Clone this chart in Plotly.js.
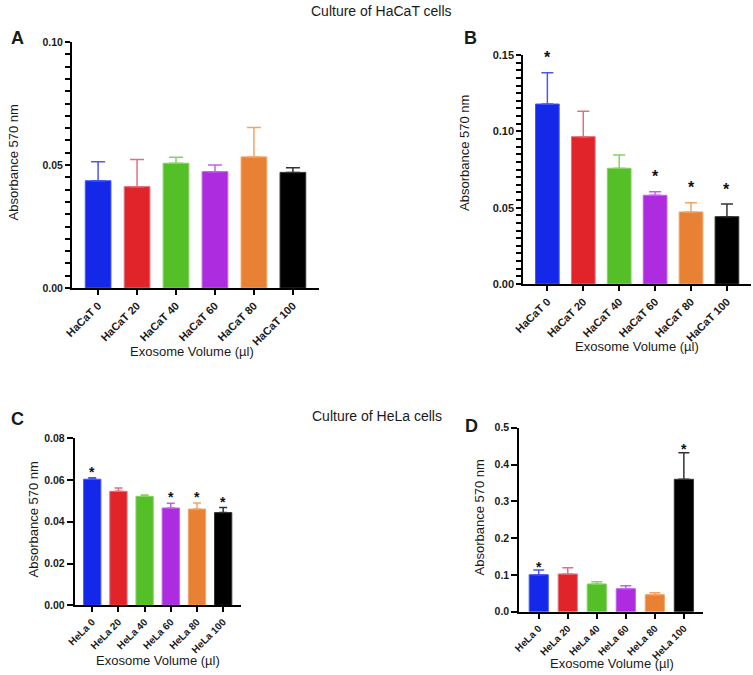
<!DOCTYPE html>
<html>
<head>
<meta charset="utf-8">
<script src="https://cdn.plot.ly/plotly-3.0.1.min.js"></script>
<style>html,body{margin:0;padding:0;background:#fff;}#chart{width:753px;height:675px;}</style>
</head>
<body>
<div id="chart"></div>
<script>
// ---- data ----
const catsHaCaT = ['HaCaT 0', 'HaCaT 20', 'HaCaT 40', 'HaCaT 60', 'HaCaT 80', 'HaCaT 100'];
const catsHeLa = ['HeLa 0', 'HeLa 20', 'HeLa 40', 'HeLa 60', 'HeLa 80', 'HeLa 100'];

const valA = [0.0436, 0.0412, 0.0507, 0.0473, 0.0533, 0.0470];
const errA = [0.0077, 0.0110, 0.0024, 0.0027, 0.0119, 0.0019];
const sigA = ['', '', '', '', '', ''];

const valB = [0.1179, 0.0965, 0.0758, 0.0581, 0.0472, 0.0441];
const errB = [0.0205, 0.0166, 0.0087, 0.0024, 0.0061, 0.0083];
const sigB = ['*', '', '', '*', '*', '*'];

const valC = [0.0604, 0.0546, 0.0522, 0.0466, 0.0461, 0.0444];
const errC = [0.0007, 0.0016, 0.0006, 0.0023, 0.0029, 0.0024];
const sigC = ['*', '', '', '*', '*', '*'];

const valD = [0.1005, 0.1024, 0.0753, 0.0625, 0.0462, 0.3598];
const errD = [0.0125, 0.0172, 0.0062, 0.0082, 0.0054, 0.0722];
const sigD = ['*', '', '', '', '', '*'];

// y tick positions / labels (panels A and B carry small unlabeled ticks every 0.005)
const yTickValsA = [0, 0.005, 0.01, 0.015, 0.02, 0.025, 0.03, 0.035, 0.04, 0.045, 0.05,
                    0.055, 0.06, 0.065, 0.07, 0.075, 0.08, 0.085, 0.09, 0.095, 0.10];
const yTickTextA = ['0.00', '', '', '', '', '', '', '', '', '', '0.05',
                    '', '', '', '', '', '', '', '', '', '0.10'];
const yTickValsB = [0, 0.005, 0.01, 0.015, 0.02, 0.025, 0.03, 0.035, 0.04, 0.045, 0.05,
                    0.055, 0.06, 0.065, 0.07, 0.075, 0.08, 0.085, 0.09, 0.095, 0.10,
                    0.105, 0.11, 0.115, 0.12, 0.125, 0.13, 0.135, 0.14, 0.145, 0.15];
const yTickTextB = ['0.00', '', '', '', '', '', '', '', '', '', '0.05',
                    '', '', '', '', '', '', '', '', '', '0.10',
                    '', '', '', '', '', '', '', '', '', '0.15'];
const yTickValsC = [0, 0.02, 0.04, 0.06, 0.08];
const yTickTextC = ['0.00', '0.02', '0.04', '0.06', '0.08'];
const yTickValsD = [0, 0.1, 0.2, 0.3, 0.4, 0.5];
const yTickTextD = ['0.0', '0.1', '0.2', '0.3', '0.4', '0.5'];

const barColors = ['#1428ea', '#e0242a', '#55bf27', '#ad2ce0', '#e98135', '#000000'];
const errColors = ['#4a58f2', '#e2707c', '#84d262', '#c063ea', '#f2a468', '#333333'];

const ytitle = 'Absorbance 570 nm';
const xtitle = 'Exosome Volume (\u00b5l)';

// ---- build ----
const FONT = 'Liberation Sans, Arial, Helvetica, sans-serif';
const W = 753, H = 675;
const px = v => v / W;
const py = v => 1 - v / H;

const panels = [
  {id: '', cats: catsHaCaT, val: valA, err: errA, sig: sigA, cap: 7, starShift: 14, starSize: 16, xfont: 11, yfont: 10.5,
   dom: {x: [72, 319], y: [42, 288]}, range: [0, 0.10], tv: yTickValsA, tt: yTickTextA, tl: 5},
  {id: '2', cats: catsHaCaT, val: valB, err: errB, sig: sigB, cap: 6, starShift: 15, starSize: 16, xfont: 11, yfont: 11,
   dom: {x: [523.3, 751], y: [55, 284]}, range: [0, 0.15], tv: yTickValsB, tt: yTickTextB, tl: 5},
  {id: '3', cats: catsHeLa, val: valC, err: errC, sig: sigC, cap: 4, starShift: 6, starSize: 14, xfont: 10, yfont: 10.5,
   dom: {x: [74.7, 240.7], y: [438.3, 605.3]}, range: [0, 0.08], tv: yTickValsC, tt: yTickTextC, tl: 6},
  {id: '4', cats: catsHeLa, val: valD, err: errD, sig: sigD, cap: 5.5, starShift: 3.5, starSize: 14, xfont: 10, yfont: 10.5,
   dom: {x: [519.3, 703.3], y: [427.7, 611.7]}, range: [0, 0.5], tv: yTickValsD, tt: yTickTextD, tl: 6}
];

const traces = [];
const layout = {
  width: W, height: H,
  margin: {l: 0, r: 0, t: 0, b: 0},
  paper_bgcolor: '#ffffff', plot_bgcolor: 'rgba(0,0,0,0)',
  showlegend: false,
  barmode: 'overlay',
  font: {family: FONT, color: '#1a1a1a'},
  annotations: []
};

panels.forEach(p => {
  const xa = 'x' + p.id, ya = 'y' + p.id;
  p.cats.forEach((c, i) => {
    traces.push({
      type: 'bar', x: [c], y: [p.val[i]], xaxis: xa, yaxis: ya, width: 0.66,
      marker: {color: barColors[i], line: {color: errColors[i], width: 1}},
      error_y: {type: 'data', symmetric: false, array: [p.err[i]], arrayminus: [0],
                color: errColors[i], thickness: 1.5, width: p.cap},
      hoverinfo: 'x+y'
    });
    if (p.sig[i]) {
      layout.annotations.push({
        xref: xa, yref: ya, x: c, y: p.val[i] + p.err[i], text: p.sig[i],
        showarrow: false, yanchor: 'middle', yshift: p.starShift,
        font: {family: FONT, size: p.starSize, color: '#111', weight: 'bold'}
      });
    }
  });
  layout['xaxis' + p.id] = {
    domain: [px(p.dom.x[0]), px(p.dom.x[1])], anchor: ya,
    type: 'category', categoryorder: 'array', categoryarray: p.cats,
    range: [-0.67, 5.67], showline: true, linecolor: '#000000', linewidth: 2,
    ticks: 'outside', ticklen: 5, tickwidth: 2, tickcolor: '#000000',
    tickangle: -45, tickfont: {family: FONT, size: p.xfont, weight: 'bold', color: '#1a1a1a'},
    showgrid: false, zeroline: false, fixedrange: true, automargin: false
  };
  layout['yaxis' + p.id] = {
    domain: [py(p.dom.y[1]), py(p.dom.y[0])], anchor: xa,
    range: p.range, tickmode: 'array', tickvals: p.tv, ticktext: p.tt,
    showline: true, linecolor: '#000000', linewidth: 2,
    ticks: 'outside', ticklen: p.tl, tickwidth: 2, tickcolor: '#000000',
    tickfont: {family: FONT, size: p.yfont, weight: 'bold', color: '#1a1a1a'},
    showgrid: false, zeroline: false, fixedrange: true, automargin: false
  };
});

// titles and labels (paper positions in pixels)
function ann(text, x, y, size, opts) {
  layout.annotations.push(Object.assign({
    xref: 'paper', yref: 'paper', x: px(x), y: py(y), text: text, showarrow: false,
    xanchor: 'center', yanchor: 'middle', font: {family: FONT, size: size, color: '#1a1a1a'}
  }, opts || {}));
}
ann('Culture of HaCaT cells', 381, 11, 14);
ann('Culture of HeLa cells', 377, 416, 14);
ann('<b>A</b>', 17, 38.5, 18);
ann('<b>B</b>', 470, 38.5, 18);
ann('<b>C</b>', 17.5, 419, 18);
ann('<b>D</b>', 471.5, 426, 18);
ann(ytitle, 12.5, 163, 13, {textangle: -90});
ann(ytitle, 464, 153, 13, {textangle: -90});
ann(ytitle, 32.5, 520, 13, {textangle: -90});
ann(ytitle, 478.5, 518, 13, {textangle: -90});
ann(xtitle, 191.7, 352, 13);
ann(xtitle, 636.7, 346, 13);
ann(xtitle, 157.5, 660, 13);
ann(xtitle, 611.7, 663.3, 13);

Plotly.newPlot('chart', traces, layout, {displayModeBar: false, staticPlot: true});
</script>
</body>
</html>
